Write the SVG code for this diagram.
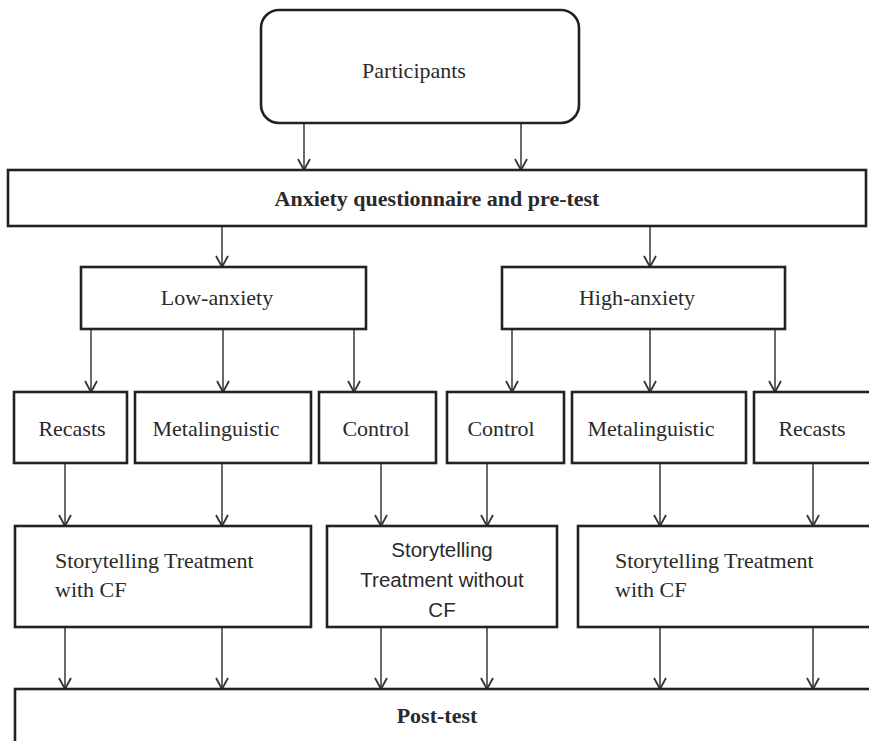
<svg xmlns="http://www.w3.org/2000/svg" width="869" height="741" viewBox="0 0 869 741">
<style>
.box{fill:#fff;stroke:#222;stroke-width:2.6}
.t{font-family:"Liberation Serif","Times New Roman",serif;font-size:22px;fill:#2a2a2a}
.c{text-anchor:middle}
.b{font-weight:bold}
.s{font-family:"Liberation Sans",Arial,sans-serif;font-size:20.5px;fill:#2a2a2a;text-anchor:middle}
.ar{stroke:#444;stroke-width:1.6;fill:none;marker-end:url(#ah)}
</style>
<defs>
<marker id="ah" markerUnits="userSpaceOnUse" markerWidth="14" markerHeight="14" viewBox="0 0 14 14" refX="13" refY="7" orient="auto">
<path d="M2,1 L13,7 L2,13" fill="none" stroke="#333" stroke-width="1.8"/>
</marker>
</defs>
<rect width="869" height="741" fill="#fff"/>
<g id="connectors">
<line class="ar" x1="304" y1="123" x2="304" y2="170"/>
<line class="ar" x1="521" y1="123" x2="521" y2="170"/>
<line class="ar" x1="222" y1="226" x2="222" y2="267"/>
<line class="ar" x1="650" y1="226" x2="650" y2="267"/>
<line class="ar" x1="91" y1="329" x2="91" y2="392"/>
<line class="ar" x1="223" y1="329" x2="223" y2="392"/>
<line class="ar" x1="354" y1="329" x2="354" y2="392"/>
<line class="ar" x1="512" y1="329" x2="512" y2="392"/>
<line class="ar" x1="650" y1="329" x2="650" y2="392"/>
<line class="ar" x1="775" y1="329" x2="775" y2="392"/>
<line class="ar" x1="65" y1="463" x2="65" y2="526"/>
<line class="ar" x1="222" y1="463" x2="222" y2="526"/>
<line class="ar" x1="381" y1="463" x2="381" y2="526"/>
<line class="ar" x1="487" y1="463" x2="487" y2="526"/>
<line class="ar" x1="660" y1="463" x2="660" y2="526"/>
<line class="ar" x1="813" y1="463" x2="813" y2="526"/>
<line class="ar" x1="65" y1="627" x2="65" y2="689"/>
<line class="ar" x1="222" y1="627" x2="222" y2="689"/>
<line class="ar" x1="381" y1="627" x2="381" y2="689"/>
<line class="ar" x1="487" y1="627" x2="487" y2="689"/>
<line class="ar" x1="660" y1="627" x2="660" y2="689"/>
<line class="ar" x1="813" y1="627" x2="813" y2="689"/>
</g>
<g id="participants"><rect class="box" x="261" y="10" width="318" height="113" rx="18"/><text class="t c" x="414" y="78">Participants</text></g>
<g id="anxiety-pretest"><rect class="box" x="8" y="170" width="858" height="56"/><text class="t c b" x="437" y="206">Anxiety questionnaire and pre-test</text></g>
<g id="low-anxiety"><rect class="box" x="81" y="267" width="285" height="62"/><text class="t c" x="217" y="305">Low-anxiety</text></g>
<g id="high-anxiety"><rect class="box" x="502" y="267" width="283" height="62"/><text class="t c" x="637" y="305">High-anxiety</text></g>
<g id="recasts-low"><rect class="box" x="14" y="392" width="113" height="71"/><text class="t c" x="72" y="436">Recasts</text></g>
<g id="metalinguistic-low"><rect class="box" x="135" y="392" width="176" height="71"/><text class="t c" x="216" y="436">Metalinguistic</text></g>
<g id="control-low"><rect class="box" x="319" y="392" width="117" height="71"/><text class="t c" x="376" y="436">Control</text></g>
<g id="control-high"><rect class="box" x="447" y="392" width="117" height="71"/><text class="t c" x="501" y="436">Control</text></g>
<g id="metalinguistic-high"><rect class="box" x="572" y="392" width="174" height="71"/><text class="t c" x="651" y="436">Metalinguistic</text></g>
<g id="recasts-high"><rect class="box" x="754" y="392" width="130" height="71"/><text class="t c" x="812" y="436">Recasts</text></g>
<g id="treatment-cf-low"><rect class="box" x="15" y="526" width="296" height="101"/><text class="t" x="55" y="568">Storytelling Treatment</text><text class="t" x="55" y="597">with CF</text></g>
<g id="treatment-no-cf"><rect class="box" x="327" y="526" width="230" height="101"/><text class="s" x="442" y="557">Storytelling</text><text class="s" x="442" y="587">Treatment without</text><text class="s" x="442" y="617">CF</text></g>
<g id="treatment-cf-high"><rect class="box" x="578" y="526" width="300" height="101"/><text class="t" x="615" y="568">Storytelling Treatment</text><text class="t" x="615" y="597">with CF</text></g>
<g id="post-test"><rect class="box" x="15" y="689" width="870" height="80"/><text class="t c b" x="437" y="723">Post-test</text></g>
</svg>
